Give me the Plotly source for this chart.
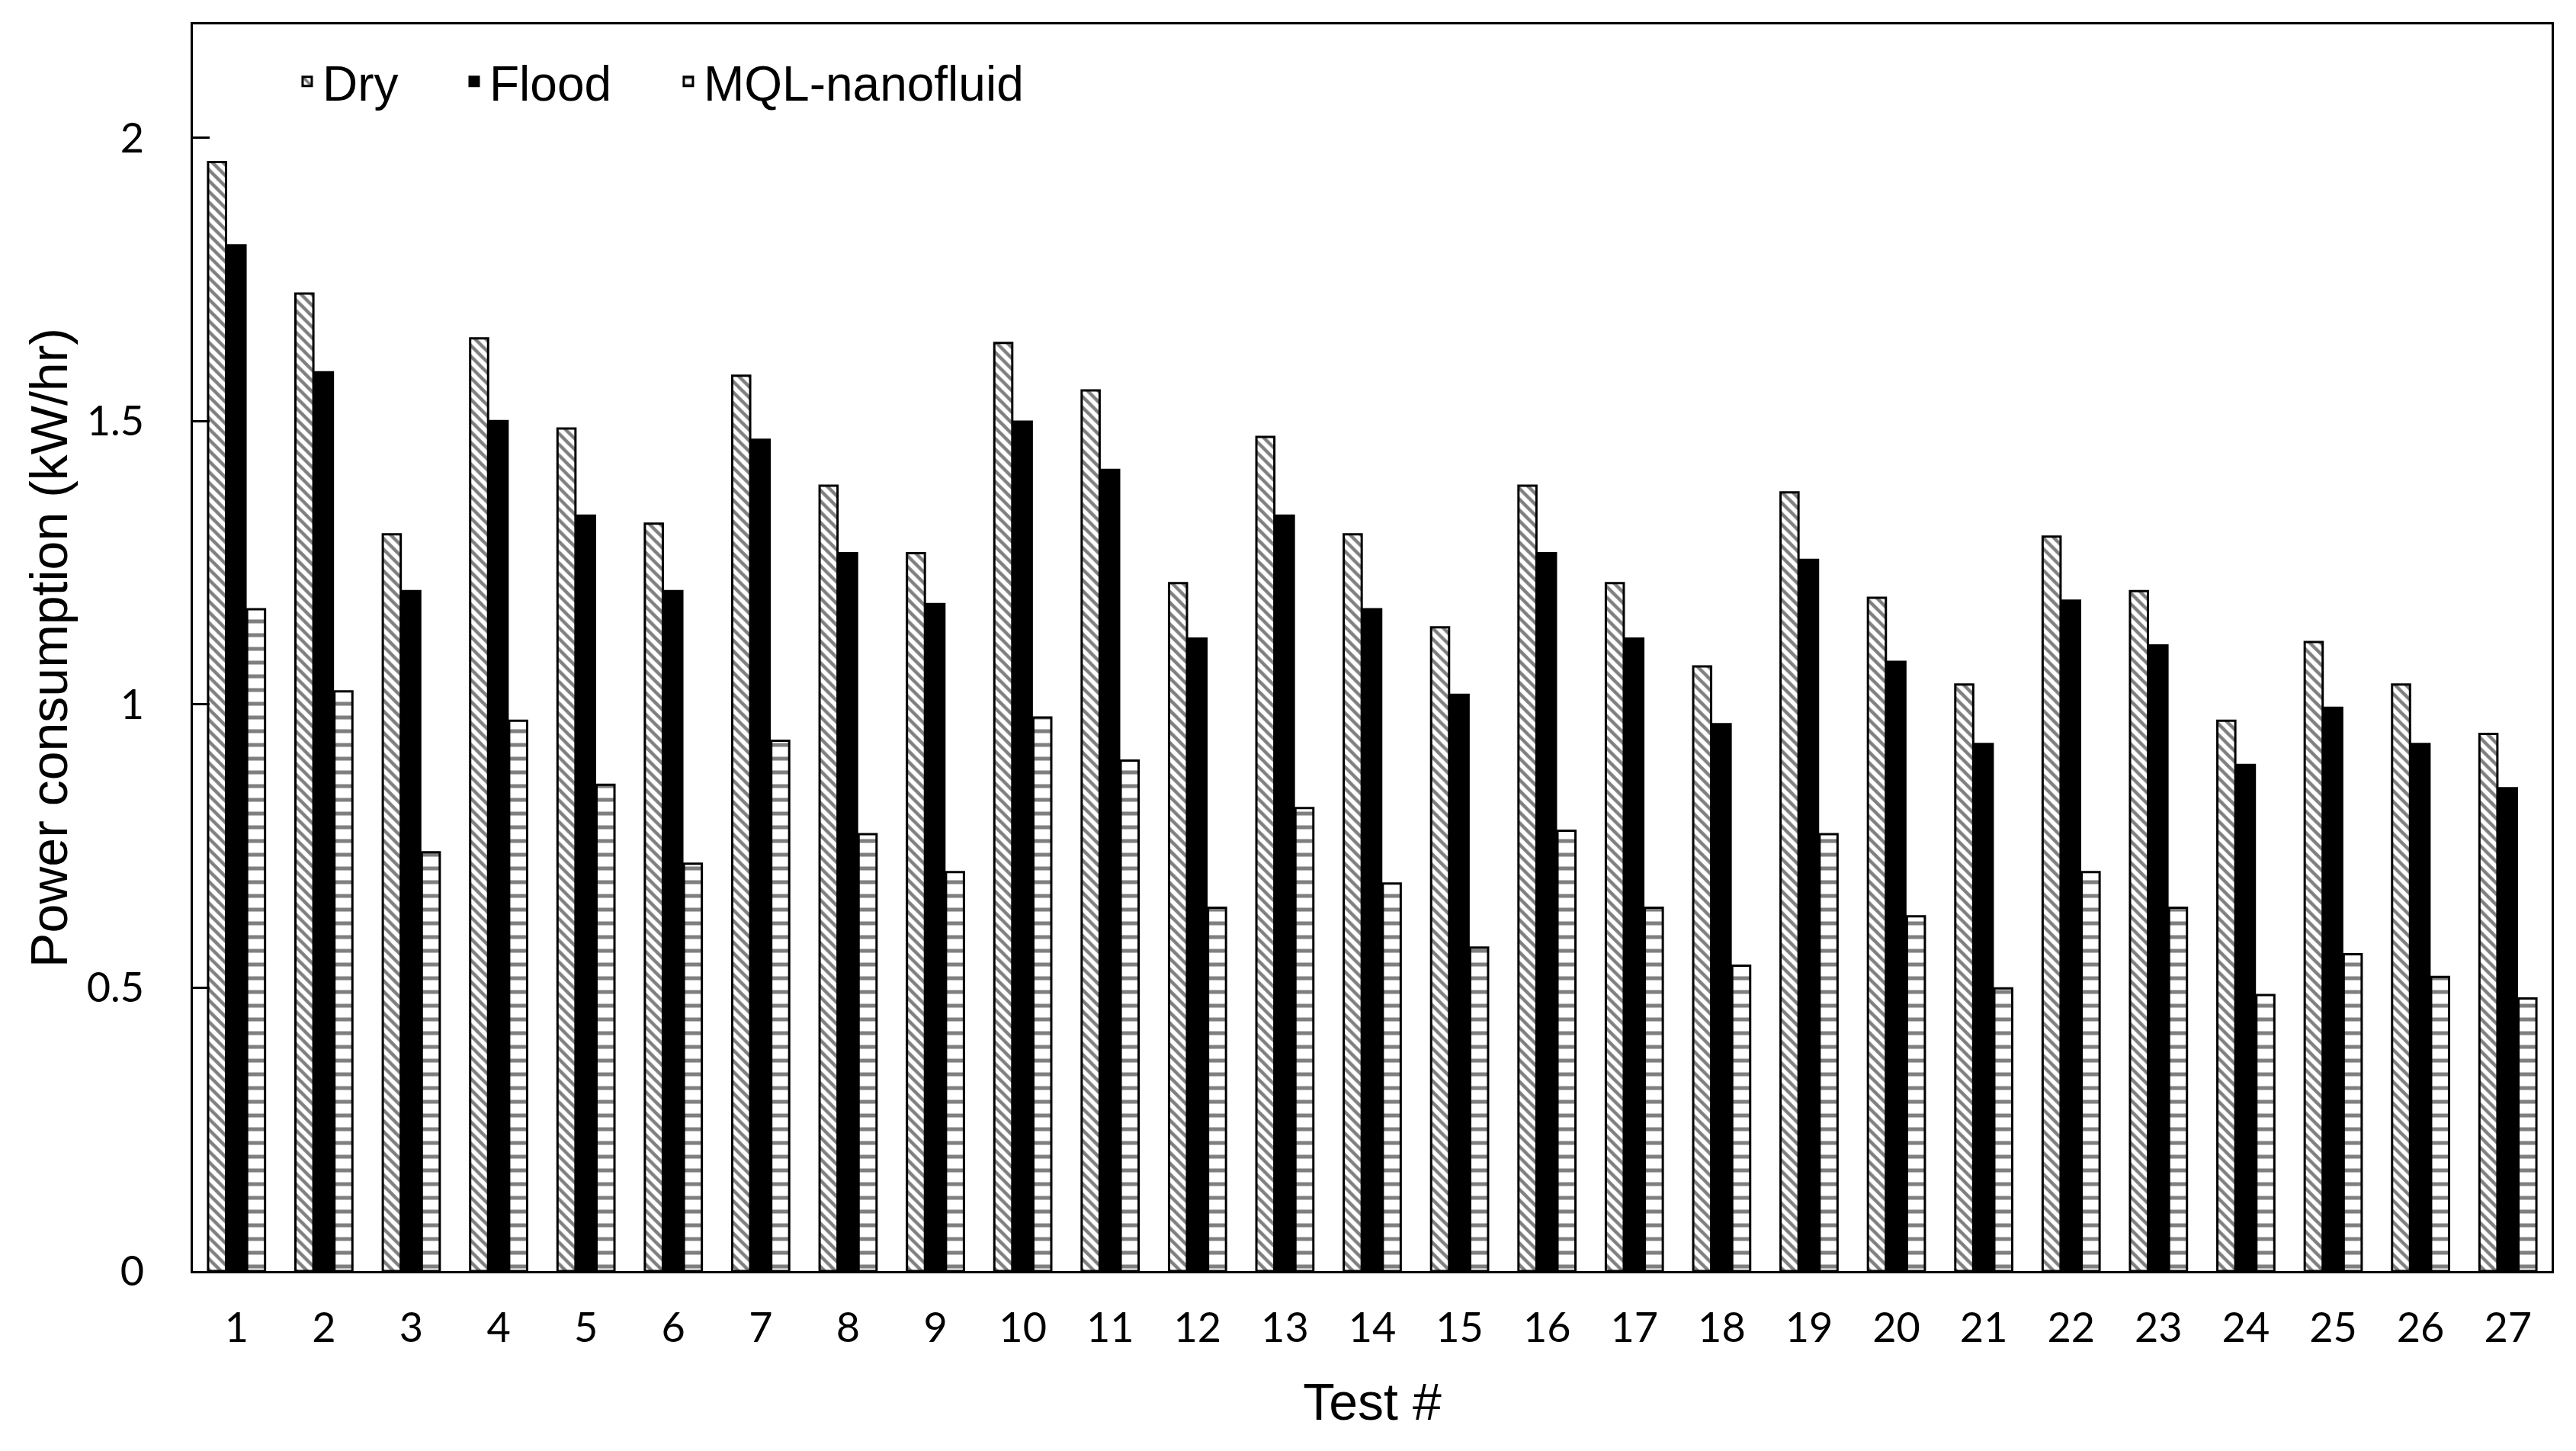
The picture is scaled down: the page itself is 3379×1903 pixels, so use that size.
import plotly.graph_objects as go

tests = [str(i) for i in range(1, 28)]
dry = [1.957, 1.725, 1.300, 1.646, 1.487, 1.319, 1.580, 1.386, 1.267, 1.638,
       1.554, 1.214, 1.472, 1.300, 1.136, 1.386, 1.214, 1.067, 1.374, 1.188,
       1.035, 1.296, 1.200, 0.971, 1.110, 1.035, 0.948]
flood = [1.810, 1.586, 1.200, 1.500, 1.333, 1.200, 1.467, 1.267, 1.177, 1.499,
         1.414, 1.116, 1.333, 1.168, 1.017, 1.267, 1.116, 0.965, 1.255, 1.075,
         0.930, 1.183, 1.104, 0.893, 0.994, 0.930, 0.852]
mql = [1.168, 1.023, 0.739, 0.971, 0.858, 0.719, 0.936, 0.771, 0.704, 0.977,
       0.901, 0.641, 0.817, 0.684, 0.571, 0.777, 0.641, 0.539, 0.771, 0.626,
       0.499, 0.704, 0.641, 0.487, 0.559, 0.519, 0.481]

W, H = 3379, 1903
fig = go.Figure()
fig.add_trace(go.Bar(
    x=tests, y=dry, name="Dry", legend="legend",
    marker=dict(color="white", line=dict(color="black", width=3),
                pattern=dict(shape="\\", fgcolor="black", bgcolor="white",
                             size=10, solidity=0.45)),
))
fig.add_trace(go.Bar(
    x=tests, y=flood, name="Flood", legend="legend2",
    marker=dict(color="black", line=dict(color="black", width=3)),
))
fig.add_trace(go.Bar(
    x=tests, y=mql, name="MQL-nanofluid", legend="legend3",
    marker=dict(color="white", line=dict(color="black", width=3),
                pattern=dict(shape="-", fgcolor="black", bgcolor="white",
                             size=18, solidity=0.28)),
))

leg_common = dict(orientation="h", xanchor="left", yanchor="middle", y=0.954,
                  font=dict(size=64), bgcolor="rgba(0,0,0,0)", itemwidth=30)
fig.update_layout(
    width=W, height=H,
    margin=dict(l=245, r=40, t=24, b=244),
    paper_bgcolor="white", plot_bgcolor="white",
    barmode="group", bargap=0.33, bargroupgap=0.08,
    font=dict(family="Liberation Sans, Arial, sans-serif", size=66, color="black"),
    legend=dict(x=0.042, **leg_common),
    legend2=dict(x=0.1128, **leg_common),
    legend3=dict(x=0.2036, **leg_common),
    showlegend=True,
)
fig.update_xaxes(
    showline=True, linecolor="black", linewidth=3, mirror=True,
    ticks="", showgrid=False,
    tickfont=dict(family="Lato, sans-serif", size=54),
    title=dict(text="Test #", font=dict(size=68), standoff=44),
    ticklabelstandoff=25,
)
fig.update_yaxes(
    range=[0, 2.2], tickvals=[0, 0.5, 1, 1.5, 2], ticktext=["0", "0.5", "1", "1.5", "2"],
    showline=True, linecolor="black", linewidth=3, mirror=True,
    ticks="inside", ticklen=22, tickwidth=3, tickcolor="black",
    showgrid=False, zeroline=False,
    tickfont=dict(family="Lato, sans-serif", size=54),
    ticklabelstandoff=50,
    title=dict(text="Power consumption (kW/hr)", font=dict(size=68), standoff=4),
)
fig.write_html("out.html")
